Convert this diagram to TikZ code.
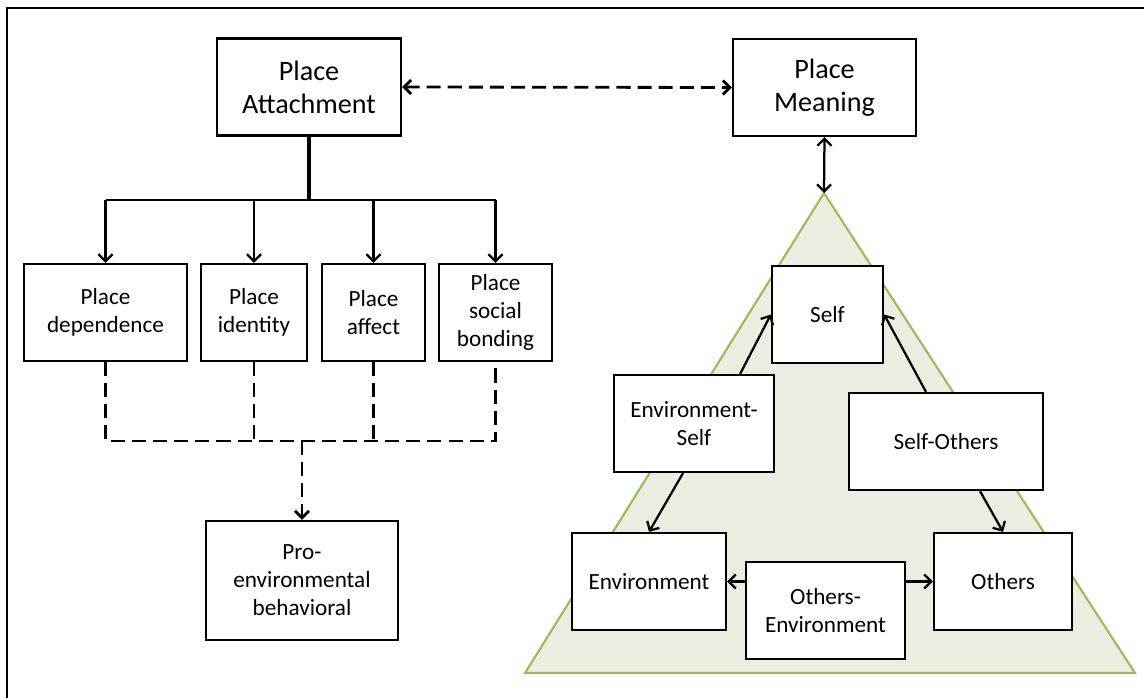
\documentclass[tikz,border=0pt]{standalone}
\usepackage{fontspec}
\setmainfont{Carlito}
\usetikzlibrary{arrows.meta}
\definecolor{trigreen}{RGB}{155,187,89}
\definecolor{trifill}{RGB}{234,237,224}

\begin{document}
\begin{tikzpicture}[x=0.025cm, y=-0.025cm, >={Straight Barb[length=5pt,width=10pt]}]
    \tikzset{box/.style = {draw, line width=1.6pt, fill=white, align=center, inner sep=0pt, minimum height=2.425cm, font=\fontsize{16.5}{19.9}\selectfont}}
    \tikzset{bigbox/.style = {box, font=\fontsize{20}{23.5}\selectfont}}
    \tikzset{edge/.style = {draw=black, line width=1.6pt, ->}}
    \tikzset{dashedge/.style = {draw=black, line width=2pt, dash pattern=on 10pt off 5pt}}
    \useasboundingbox (0,0) rectangle (1144,698);
    % frame
    \draw[line width=1.2pt] (7,698) -- (7,8) -- (1144,8);
    % triangle
    \coordinate (apex) at (824,193);
    \coordinate (bl) at (525,673);
    \coordinate (br) at (1135,673);
    \draw[draw=trigreen, line width=1.5pt, fill=trifill] (apex) -- (bl) -- (br) -- cycle;
    % vertices
    \node[bigbox, minimum width=4.6cm]   (pa)    at (309,87)    {Place\\Attachment};
    \node[bigbox, minimum width=4.575cm] (pm)    at (824.5,87.5) {Place\\Meaning};
    \node[box, minimum width=4.075cm] (pdep)  at (105.5,312.5) {Place\\dependence};
    \node[box, minimum width=2.65cm]  (pid)   at (254,312.5)   {Place\\identity};
    \node[box, minimum width=2.575cm] (paff)  at (373.5,312.5) {Place\\affect};
    \node[box, minimum width=2.825cm] (pbond) at (495.5,312.5) {Place\\social\\bonding};
    \node[box, minimum width=4.8cm, minimum height=2.975cm] (peb) at (302,580.5) {Pro-\\environmental\\behavioral};
    \node[box, minimum width=2.775cm] (self)    at (827.5,314.5) {Self};
    \node[box, minimum width=4cm]     (envself) at (694,423.5)   {Environment-\\Self};
    \node[box, minimum width=4.85cm]  (selfoth) at (946,441.5)   {Self-Others};
    \node[box, minimum width=3.85cm]  (env)     at (649,581.5)   {Environment};
    \node[box, minimum width=3.45cm]  (oth)     at (1003,581.5)  {Others};
    \node[box, minimum width=3.975cm] (othenv)  at (825.5,610.5) {Others-\\Environment};
    % edges
    \coordinate (split) at (309,200);
    \coordinate (merge) at (302,441);
    \draw[dashedge, <->] (pa.east) -- (pm.west);
    \draw[edge, <->] (pm.south) -- (apex);
    \draw[line width=2.8pt] (pa.south) -- (split);
    \draw[line width=1.8pt] (pdep.north |- split) -- (pbond.north |- split);
    \foreach \n in {pdep,pid,paff,pbond}
        \draw[edge] (\n.north |- split) -- (\n.north);
    \draw[dashedge] (pdep.south) -- (pdep.south |- merge) -- (pbond.south |- merge) -- (pbond.south);
    \draw[dashedge] (pid.south) -- (pid.south |- merge);
    \draw[dashedge] (paff.south) -- (paff.south |- merge);
    \draw[dashedge, ->] (merge) -- (peb.north);
    \draw[edge] ([xshift=-0.875cm]envself.north east) -- (self.west);
    \draw[edge] ([xshift=-0.275cm]envself.south) -- (env.north);
    \draw[edge] ([xshift=-0.5cm]selfoth.north) -- (self.east);
    \draw[edge] ([xshift=0.85cm]selfoth.south) -- (oth.north);
    \draw[edge] (othenv.west |- env.east) -- (env.east);
    \draw[edge] (othenv.east |- oth.west) -- (oth.west);
\end{tikzpicture}
\end{document}
